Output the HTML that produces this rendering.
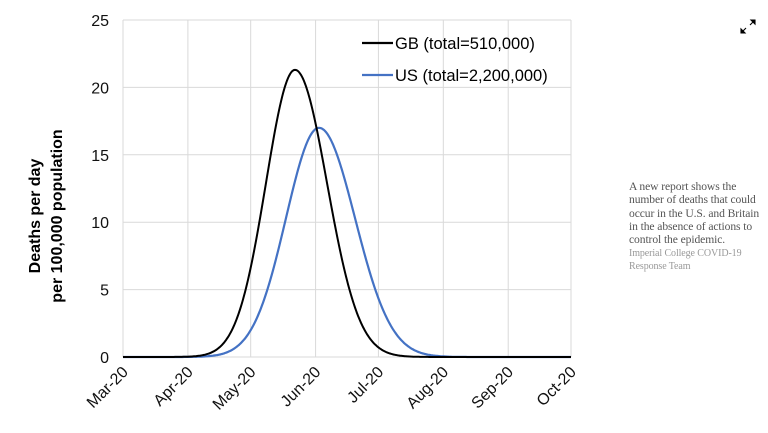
<!DOCTYPE html>
<html><head><meta charset="utf-8"><style>
body{margin:0;background:#fff;width:768px;height:433px;overflow:hidden;font-family:"Liberation Sans",sans-serif}
.cap{position:absolute;left:629px;top:180px;width:136px;font-family:"Liberation Serif",serif;font-size:11.6px;line-height:13.3px;color:#555;letter-spacing:-0.1px}
.cr{color:#999;font-size:10px;line-height:13px;margin-top:1px}
</style></head><body>
<svg width="768" height="433" style="position:absolute;left:0;top:0" font-family="Liberation Sans, sans-serif">
<g id="grid" stroke="#d9d9d9" stroke-width="1"></g>
<g id="lab" font-size="16" fill="#111"></g>
<text transform="translate(44,216) rotate(-90)" text-anchor="middle" font-weight="bold" font-size="16" fill="#000"><tspan x="0" dy="-4">Deaths per day</tspan><tspan x="0" dy="22">per 100,000 population</tspan></text>
<path id="us" fill="none" stroke="#4472c4" stroke-width="2.2"/>
<path id="gb" fill="none" stroke="#000" stroke-width="2"/>
<line x1="362" y1="43" x2="393" y2="43" stroke="#000" stroke-width="2.2"/>
<text x="395" y="49" font-size="16.5">GB (total=510,000)</text>
<line x1="362" y1="75" x2="393" y2="75" stroke="#4472c4" stroke-width="2.2"/>
<text x="395" y="81" font-size="16.5">US (total=2,200,000)</text>
<g stroke="#000" stroke-width="1.1" fill="#000"><path d="M742 32 L746 28 M754 21 L750 25"/><polygon points="741,33 741,29 745,33"/><polygon points="755,20 755,24 751,20"/></g>
</svg>
<div class="cap">A new report shows the number of deaths that could occur in the U.S. and Britain in the absence of actions to control the epidemic.<div class="cr">Imperial College COVID-19 Response Team</div></div>
<script>
var L=123,R=571,T=20,B=357,g=document.getElementById('grid'),lab=document.getElementById('lab'),ns='http://www.w3.org/2000/svg';
function el(p,t,a,tx){var e=document.createElementNS(ns,t);for(var k in a)e.setAttribute(k,a[k]);if(tx)e.textContent=tx;p.appendChild(e);return e;}
for(var i=0;i<=5;i++){var y=B-(B-T)*i/5;el(g,'line',{x1:L,x2:R,y1:y,y2:y});el(lab,'text',{x:L-14,y:y+6,'text-anchor':'end'},String(i*5));}
var days=[0,31,61,92,122,153,184,214],names=['Mar-20','Apr-20','May-20','Jun-20','Jul-20','Aug-20','Sep-20','Oct-20'];
days.forEach(function(d,i){var x=L+d*(R-L)/214;el(g,'line',{x1:x,x2:x,y1:T,y2:B});el(lab,'text',{transform:'translate('+(x+6)+','+(B+16)+') rotate(-45)','text-anchor':'end'},names[i]);});
function path(id,pk,c,sl,sr){var d='';for(var x=L;x<=R;x+=1){var s=x<c?sl:sr;var v=pk*Math.exp(-Math.pow(x-c,2)/(2*s*s));var y=B-v*(B-T)/25;d+=(x==L?'M':'L')+x+' '+y.toFixed(1);}document.getElementById(id).setAttribute('d',d);}
path('gb',21.3,295,29,32);path('us',17,319,33,36);
</script>
</body></html>
